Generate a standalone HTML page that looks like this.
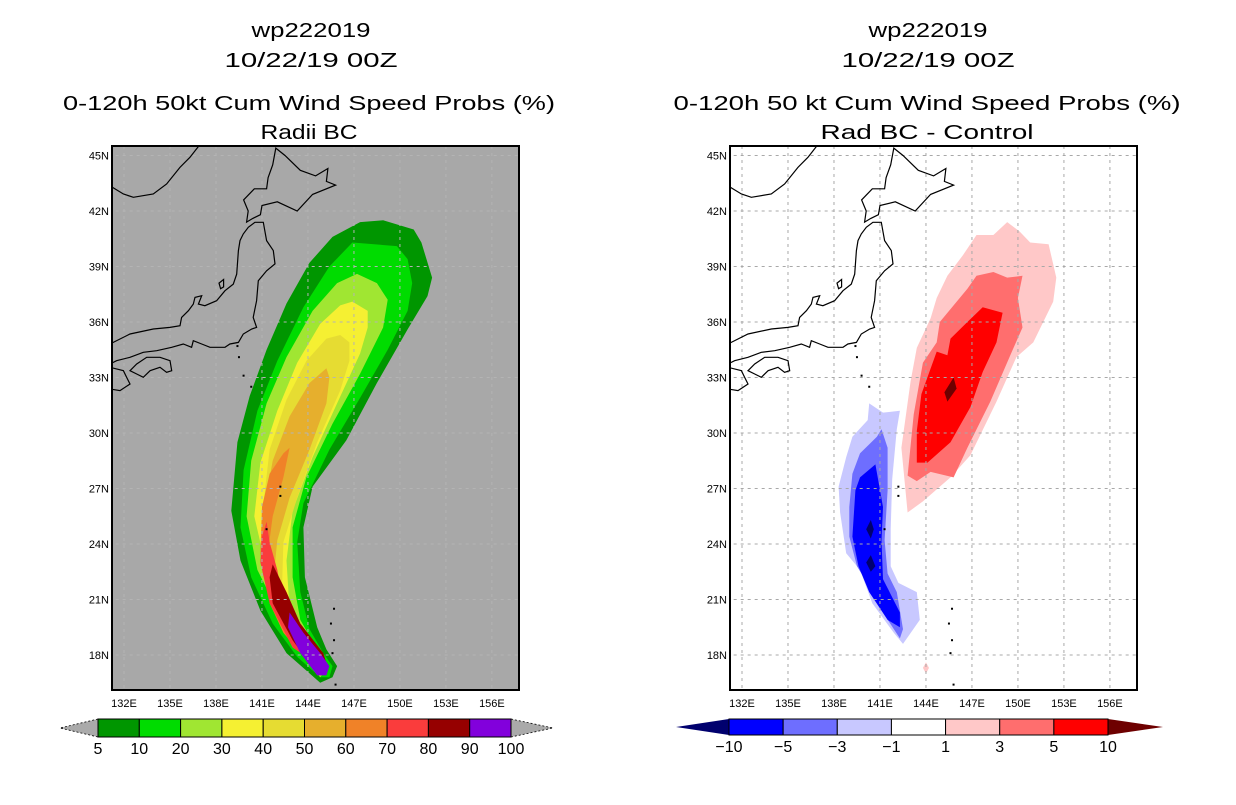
<!DOCTYPE html>
<html><head><meta charset="utf-8"><style>
html,body{margin:0;padding:0;background:#fff;}
svg text{font-family:"Liberation Sans",sans-serif;fill:#000;}
</style></head><body>
<svg id="c" width="1236" height="800" viewBox="0 0 1236 800" xmlns="http://www.w3.org/2000/svg">
<defs>
<clipPath id="clipL"><rect x="112" y="146" width="407" height="544"/></clipPath>
<clipPath id="clipR"><rect x="730" y="146" width="407" height="544"/></clipPath>
</defs>
<g font-size="20" text-anchor="middle">
<text x="311" y="37" textLength="119" lengthAdjust="spacingAndGlyphs">wp222019</text>
<text x="311" y="67" textLength="173" lengthAdjust="spacingAndGlyphs">10/22/19 00Z</text>
<text x="309" y="110" textLength="492" lengthAdjust="spacingAndGlyphs">0-120h 50kt Cum Wind Speed Probs (%)</text>
<text x="309" y="139" textLength="97" lengthAdjust="spacingAndGlyphs">Radii BC</text>
</g>
<g font-size="20" text-anchor="middle">
<text x="928" y="37" textLength="119" lengthAdjust="spacingAndGlyphs">wp222019</text>
<text x="928" y="67" textLength="173" lengthAdjust="spacingAndGlyphs">10/22/19 00Z</text>
<text x="927" y="110" textLength="507" lengthAdjust="spacingAndGlyphs">0-120h 50 kt Cum Wind Speed Probs (%)</text>
<text x="927" y="139" textLength="213" lengthAdjust="spacingAndGlyphs">Rad BC - Control</text>
</g>
<rect x="112" y="146" width="407" height="544" fill="#a8a8a8"/>
<rect x="730" y="146" width="407" height="544" fill="#ffffff"/>
<g id="L" clip-path="url(#clipL)"></g>
<g id="R" clip-path="url(#clipR)"></g>
<rect x="112" y="146" width="407" height="544" fill="none" stroke="#000" stroke-width="2"/>
<rect x="730" y="146" width="407" height="544" fill="none" stroke="#000" stroke-width="2"/>
<g id="axes"></g>
<g id="cbars"></g>
</svg>
<script>
const NS='http://www.w3.org/2000/svg';
const lonTicks=[132,135,138,141,144,147,150,153,156];
const latTicks=[18,21,24,27,30,33,36,39,42,45];
const probLevels=['5','10','20','30','40','50','60','70','80','90','100'];
const probColors=['#009600','#00dc00','#a0e632','#f5f032','#e6dc32','#e6af2d','#f08228','#fa3c3c','#960000','#8200dc'];
const diffLevels=['-10','-5','-3','-1','1','3','5','10'];
const diffColors=['#0000ff','#6e6eff','#c8c8ff','#ffffff','#ffc8c8','#ff6e6e','#ff0000'];

const prob5=[[144.8,16.5],[142.6,18.1],[140.9,20.4],[139.6,23.1],[139.0,25.8],[139.4,29.5],[140.2,32.0],[141.3,34.5],[142.6,37.0],[144.1,39.2],[145.6,40.6],[147.4,41.4],[148.9,41.5],[150.9,41.0],[151.4,40.3],[152.1,38.4],[151.8,37.4],[150.5,35.6],[148.5,32.7],[146.5,29.6],[144.3,27.1],[143.7,24.9],[143.8,22.2],[144.6,19.5],[145.2,18.3],[145.9,17.4],[145.6,16.8]];
const prob10=[[146.9,40.3],[149.8,40.1],[150.5,39.4],[150.8,38.1],[150.5,36.6],[149.2,34.5],[147.4,31.9],[145.4,29.1],[143.7,26.2],[143.3,24.1],[143.5,21.4],[144.1,19.4],[145.0,18.1],[145.6,17.4],[145.4,16.8],[144.8,16.8],[143.3,17.9],[141.7,19.7],[140.3,22.2],[139.6,24.9],[139.8,28.0],[140.7,31.2],[142.0,33.9],[143.7,36.8],[145.4,39.0]];
const prob20=[[147.2,38.6],[148.5,38.1],[149.2,37.2],[148.9,35.7],[147.4,33.2],[145.6,30.5],[143.9,27.6],[143.0,24.9],[143.0,22.2],[143.5,19.9],[144.6,18.3],[145.2,17.2],[144.8,16.8],[143.7,17.9],[142.2,20.1],[140.7,22.6],[140.0,25.5],[140.3,28.5],[141.3,31.6],[142.6,34.1],[144.3,36.6],[145.9,38.1]];
const prob30=[[146.9,37.1],[147.9,36.6],[147.9,35.7],[147.4,34.3],[145.9,31.6],[144.3,28.7],[143.0,25.8],[142.6,23.1],[142.8,20.4],[143.9,18.4],[145.0,17.2],[144.1,17.9],[142.6,19.9],[141.3,22.6],[140.5,25.5],[140.9,28.4],[142.0,31.2],[143.3,33.8],[144.8,35.9],[146.1,36.9]];
const prob40=[[146.1,35.3],[146.7,34.9],[146.7,33.9],[146.1,32.3],[144.6,29.5],[143.3,26.5],[142.4,24.1],[142.3,21.4],[143.0,19.0],[144.6,17.4],[143.7,18.3],[142.4,20.4],[141.5,23.1],[141.1,26.2],[141.5,29.1],[142.6,31.8],[143.9,33.9],[145.2,35.1]];
const prob50=[[145.2,33.5],[145.4,33.0],[145.2,31.6],[144.1,29.1],[142.8,26.5],[142.0,24.2],[141.7,21.7],[142.6,19.4],[144.3,17.6],[143.3,18.6],[142.0,21.0],[141.3,23.7],[141.2,26.2],[141.7,28.5],[142.8,30.9],[144.1,32.7]];
const prob60=[[142.8,29.2],[142.4,27.6],[141.7,25.5],[141.3,23.0],[141.5,20.8],[142.4,19.2],[143.9,17.7],[142.8,18.8],[141.5,21.0],[140.9,23.5],[141.0,26.0],[141.5,27.8],[142.4,28.9]];
const prob70=[[141.3,25.2],[141.5,24.1],[142.0,22.6],[142.4,20.8],[143.3,19.2],[144.8,17.7],[145.2,17.2],[143.0,18.4],[141.5,20.8],[140.9,23.0],[141.0,24.4]];
const prob80=[[141.7,22.9],[142.6,21.4],[143.5,19.7],[145.0,18.1],[145.3,17.3],[144.6,17.0],[143.0,18.8],[141.7,20.8],[141.5,22.2]];
const prob90=[[142.8,20.3],[143.7,19.2],[144.8,18.1],[145.4,17.4],[145.2,16.9],[144.6,16.9],[143.5,18.1],[142.7,19.5]];

const diffPos1=[[149.3,41.4],[150.1,40.9],[150.8,40.3],[152.0,40.2],[152.5,38.4],[152.3,37.1],[151.0,34.9],[149.9,34.1],[148.6,31.7],[146.9,28.8],[145.6,27.6],[143.8,26.3],[142.8,25.7],[142.4,29.2],[143.0,32.8],[143.4,34.6],[144.3,36.2],[144.7,37.3],[145.4,38.5],[146.4,39.6],[147.3,40.7],[148.4,40.7]];
const diffPos3=[[147.3,38.5],[148.4,38.7],[149.3,38.4],[150.3,38.5],[150.0,37.3],[150.3,35.7],[149.5,34.2],[148.2,31.7],[146.7,29.2],[145.8,27.6],[144.3,27.9],[143.4,27.4],[142.8,27.7],[143.2,31.0],[143.8,33.8],[144.7,34.9],[144.9,36.0],[145.8,36.9],[146.7,37.8]];
const diffPos5=[[147.7,36.8],[149.0,36.5],[148.6,34.9],[147.7,33.3],[146.9,31.4],[145.6,29.5],[144.1,28.4],[143.4,28.4],[143.4,30.1],[143.7,32.1],[144.7,34.4],[145.4,34.2],[145.6,35.1],[146.7,36.0]];
const diffPos10=[[145.8,33.0],[146.0,32.4],[145.4,31.7],[145.2,32.2]];
const diffPosIsle=[[144.0,17.6],[144.2,17.3],[144.0,17.0],[143.8,17.3]];
const diffNeg1=[[140.3,31.6],[141.2,31.1],[142.3,31.2],[142.1,30.2],[141.8,27.5],[141.7,24.8],[141.7,22.8],[142.2,21.9],[143.4,21.4],[143.6,19.9],[142.5,18.6],[141.9,19.2],[140.5,20.8],[139.7,22.6],[138.8,23.5],[138.4,25.7],[138.3,27.1],[138.8,28.7],[139.2,29.8],[140.2,30.7]];
const diffNeg3=[[141.1,30.2],[141.5,29.2],[141.5,26.9],[141.3,24.2],[141.5,22.4],[142.1,21.4],[142.5,19.4],[142.3,18.9],[141.2,20.3],[140.3,21.7],[139.5,22.8],[139.0,24.4],[139.0,26.0],[139.2,27.8],[139.7,28.9],[140.8,29.8]];
const diffNeg5=[[140.7,28.3],[141.2,26.0],[141.1,24.2],[141.2,22.1],[142.3,20.3],[142.3,19.5],[141.5,19.9],[140.3,21.4],[139.6,22.8],[139.2,24.4],[139.4,26.9],[139.7,27.6]];
const diffNeg10a=[[140.4,25.3],[140.6,24.8],[140.4,24.3],[140.1,24.8]];
const diffNeg10b=[[140.4,23.4],[140.7,22.8],[140.4,22.5],[140.1,23.0]];

const honshu=[[140.54,41.39],[141.09,41.39],[141.30,40.40],[141.74,39.86],[141.85,39.14],[141.30,38.77],[140.76,38.23],[140.65,37.15],[140.43,36.25],[140.65,35.71],[140.33,35.62],[139.78,35.35],[139.46,34.90],[138.91,34.81],[138.59,34.63],[137.61,34.63],[137.07,34.81],[136.52,34.99],[136.41,34.63],[135.87,34.81],[135.11,34.63],[134.13,34.45],[133.26,34.36],[132.39,34.09],[131.52,33.91],[131.09,33.73],[131.09,34.81],[132.39,35.35],[133.91,35.62],[135.00,35.71],[135.65,35.80],[135.76,36.25],[136.20,36.61],[136.52,36.97],[136.63,37.33],[137.07,37.42],[136.85,36.97],[137.28,36.88],[138.04,37.15],[138.59,37.69],[139.13,38.05],[139.35,38.59],[139.46,39.86],[139.57,40.40],[139.78,40.76],[140.11,41.12]];
const shikoku=[[133.48,34.09],[134.35,34.09],[135.00,33.91],[135.11,33.37],[134.78,33.28],[134.35,33.55],[133.70,33.37],[133.26,33.01],[132.83,33.19],[132.39,33.37],[132.83,33.73]];
const kyushu=[[131.09,33.55],[131.96,33.37],[132.17,33.01],[132.39,32.65],[131.74,32.29],[131.09,32.38]];
const hokkaido=[[140.0,41.4],[140.1,42.0],[139.8,42.6],[140.5,43.2],[141.3,43.2],[141.4,43.8],[141.7,44.5],[141.9,45.4],[142.5,45.0],[143.5,44.2],[144.5,43.9],[145.3,44.3],[145.2,43.6],[145.8,43.4],[144.3,42.9],[143.3,42.0],[142.0,42.5],[141.0,42.3],[140.9,41.8],[140.4,41.6]];
const sado=[[138.2,38.1],[138.5,38.3],[138.5,37.9],[138.3,37.8]];
const mainland=[[131.2,43.3],[131.96,42.92],[132.61,42.74],[133.91,42.92],[134.78,43.46],[135.65,44.36],[136.30,44.90],[136.96,45.6]];
const islands=[[139.4,34.7],[139.5,34.1],[139.8,33.1],[140.3,32.5],[142.2,27.1],[142.2,26.6],[141.3,24.8],[145.7,20.5],[145.5,19.7],[145.7,18.8],[145.6,18.1],[145.8,16.4]];

function proj(x0){return {x:lon=>x0+(lon-132)*15.33, y:lat=>655-(lat-18)*18.5};}
const P={L:proj(124),R:proj(742)};

function poly(g,p,pts,fill,name){
  const e=document.createElementNS(NS,'polygon');
  e.setAttribute('points',pts.map(d=>p.x(d[0]).toFixed(1)+','+p.y(d[1]).toFixed(1)).join(' '));
  e.setAttribute('fill',fill);
  
  
  g.appendChild(e);return e;
}
function drawMap(id,layers,gridColor){
  const g=document.getElementById(id),p=P[id];
  layers.forEach(l=>poly(g,p,l[0],l[1],l[2]));
  lonTicks.forEach(v=>{const e=document.createElementNS(NS,'line');
    e.setAttribute('x1',p.x(v));e.setAttribute('x2',p.x(v));e.setAttribute('y1',146);e.setAttribute('y2',690);
    e.setAttribute('stroke',gridColor);e.setAttribute('stroke-dasharray','3,4');
    
    
    g.appendChild(e);});
  latTicks.forEach(v=>{const e=document.createElementNS(NS,'line');
    e.setAttribute('y1',p.y(v));e.setAttribute('y2',p.y(v));e.setAttribute('x1',p.x(131));e.setAttribute('x2',p.x(158));
    e.setAttribute('stroke',gridColor);e.setAttribute('stroke-dasharray','3,4');
    
    
    g.appendChild(e);});
  [[honshu,'honshu'],[shikoku,'shikoku'],[kyushu,'kyushu'],[hokkaido,'hokkaido'],[sado,'sado']].forEach(c=>{
    const e=poly(g,p,c[0],'none',c[1]+'-coastline');e.setAttribute('stroke','#000');e.setAttribute('stroke-width','1.2');});
  const m=document.createElementNS(NS,'polyline');
  m.setAttribute('points',mainland.map(d=>p.x(d[0])+','+p.y(d[1])).join(' '));
  m.setAttribute('fill','none');m.setAttribute('stroke','#000');m.setAttribute('stroke-width','1.2');
  
  
  g.appendChild(m);
  islands.forEach(d=>{const e=document.createElementNS(NS,'rect');
    e.setAttribute('x',p.x(d[0])-1);e.setAttribute('y',p.y(d[1])-1);e.setAttribute('width',2);e.setAttribute('height',2);
    
    
    g.appendChild(e);});
  const ax=document.getElementById('axes');
  lonTicks.forEach(v=>{const t=document.createElementNS(NS,'text');
    t.setAttribute('x',p.x(v));t.setAttribute('y',707);t.setAttribute('font-size','11');t.setAttribute('text-anchor','middle');
    t.textContent=v+'E';
    
    
    ax.appendChild(t);});
  latTicks.forEach(v=>{const t=document.createElementNS(NS,'text');
    t.setAttribute('x',p.x(132)-15);t.setAttribute('y',p.y(v)+4);t.setAttribute('font-size','11');t.setAttribute('text-anchor','end');
    t.textContent=v+'N';
    
    
    ax.appendChild(t);});
}
drawMap('L',[[prob5,probColors[0],'prob-5'],[prob10,probColors[1],'prob-10'],[prob20,probColors[2],'prob-20'],[prob30,probColors[3],'prob-30'],[prob40,probColors[4],'prob-40'],[prob50,probColors[5],'prob-50'],[prob60,probColors[6],'prob-60'],[prob70,probColors[7],'prob-70'],[prob80,probColors[8],'prob-80'],[prob90,probColors[9],'prob-90']],'#b4b4b4');
drawMap('R',[[diffPos1,diffColors[4],'diff-pos-1'],[diffPosIsle,diffColors[4],'diff-pos-1-isle'],[diffPos3,diffColors[5],'diff-pos-3'],[diffPos5,diffColors[6],'diff-pos-5'],[diffPos10,'#6e0000','diff-pos-10'],[diffNeg1,diffColors[2],'diff-neg-1'],[diffNeg3,diffColors[1],'diff-neg-3'],[diffNeg5,diffColors[0],'diff-neg-5'],[diffNeg10a,'#00006e','diff-neg-10a'],[diffNeg10b,'#00006e','diff-neg-10b']],'#a8a8a8');

function colorbar(x0,x1,y0,y1,l,r,colors,levels,lc,rc,dashed,name){
  const g=document.getElementById('cbars'),w=(x1-x0)/colors.length,ym=(y0+y1)/2;
  [[x0,l,lc],[x1,r,rc]].forEach(t=>{const e=document.createElementNS(NS,'polygon');
    e.setAttribute('points',`${t[0]},${y0} ${t[1]},${ym} ${t[0]},${y1}`);e.setAttribute('fill',t[2]);
    if(dashed){e.setAttribute('stroke','#000');e.setAttribute('stroke-dasharray','2,2');e.setAttribute('stroke-width','0.8');}
    
    
    g.appendChild(e);});
  colors.forEach((c,i)=>{const e=document.createElementNS(NS,'rect');
    e.setAttribute('x',x0+i*w);e.setAttribute('y',y0);e.setAttribute('width',w);e.setAttribute('height',y1-y0);
    e.setAttribute('fill',c);e.setAttribute('stroke','#000');e.setAttribute('stroke-width','1');
    
    
    g.appendChild(e);});
  levels.forEach((v,i)=>{const t=document.createElementNS(NS,'text');
    t.setAttribute('x',x0+i*w);t.setAttribute('y',y1+17);t.setAttribute('font-size','16');t.setAttribute('text-anchor','middle');
    t.textContent=v.replace('-','\u2212');
    
    
    g.appendChild(t);});
}
colorbar(98,511,719,737,60,553,probColors,probLevels,'#aaaaaa','#aaaaaa',true,'prob-colorbar');
colorbar(729,1108,719,735,676,1163,diffColors,diffLevels,'#00006e','#6e0000',false,'diff-colorbar');
</script>
</body></html>
